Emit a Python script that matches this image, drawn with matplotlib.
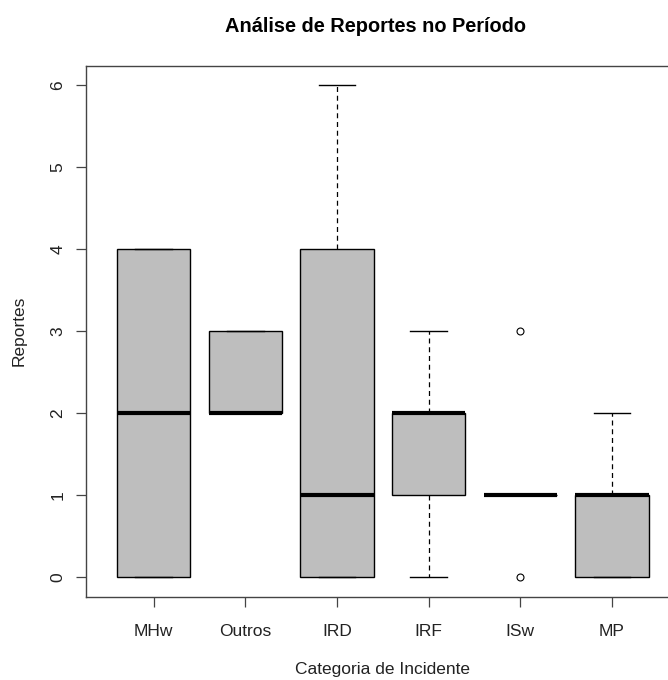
import matplotlib.pyplot as plt

# =========================================================
# Data (summary stats)
# =========================================================
categorias = ["MHw", "Outros", "IRD", "IRF", "ISw", "MP"]
minimos = [0, 2, 0, 0, 1, 0]
q1 = [0, 2, 0, 1, 1, 0]
medianas = [2, 2, 1, 2, 1, 1]
q3 = [4, 3, 4, 2, 1, 1]
maximos = [4, 3, 6, 3, 1, 2]
outliers = [[], [], [], [], [3, 0], []]

stats = []
for i, nome in enumerate(categorias):
    stats.append({
        "label": nome,
        "whislo": minimos[i],
        "q1": q1[i],
        "med": medianas[i],
        "q3": q3[i],
        "whishi": maximos[i],
        "fliers": outliers[i],
    })

# =========================================================
# Plot
# =========================================================
plt.rcParams["font.family"] = ["Liberation Sans", "DejaVu Sans"]

fig = plt.figure(figsize=(6.68, 6.8), dpi=100)
ax = fig.add_axes([86 / 668, 1 - 596.7 / 680, (679.8 - 86) / 668, 531 / 680])

ax.bxp(
    stats,
    positions=range(1, len(categorias) + 1),
    widths=0.8,
    patch_artist=True,
    boxprops=dict(facecolor="#bebebe", edgecolor="black", linewidth=1.0),
    medianprops=dict(color="black", linewidth=3, solid_capstyle="butt"),
    whiskerprops=dict(color="black", linestyle=(0, (4, 3)), linewidth=0.9),
    capprops=dict(color="black", linewidth=1.0),
    capwidths=0.4,
    flierprops=dict(marker="o", markersize=5, markerfacecolor="none",
                    markeredgecolor="black", markeredgewidth=0.8),
)

ax.set_xlim(0.26, 6.74)
ax.set_ylim(-0.24, 6.24)
ax.set_yticks(range(0, 7))
ax.set_yticklabels([str(v) for v in range(0, 7)], rotation=90, va="center")

for s in ax.spines.values():
    s.set_color("#444444")
    s.set_linewidth(1.0)

ax.tick_params(axis="both", direction="out", length=7, width=0.9,
               color="#444444", labelsize=12.5, labelcolor="#222222")
ax.tick_params(axis="x", pad=13)
ax.tick_params(axis="y", pad=8)

ax.set_xlabel("Categoria de Incidente", fontsize=12.5, labelpad=16, color="#222222")
ax.set_ylabel("Reportes", fontsize=12.5, labelpad=17, color="#222222")
fig.text(0.562, 1 - 27 / 680, "Análise de Reportes no Período",
         ha="center", va="center", fontsize=14.4, fontweight="bold")

fig.savefig("out.png", dpi=100)
